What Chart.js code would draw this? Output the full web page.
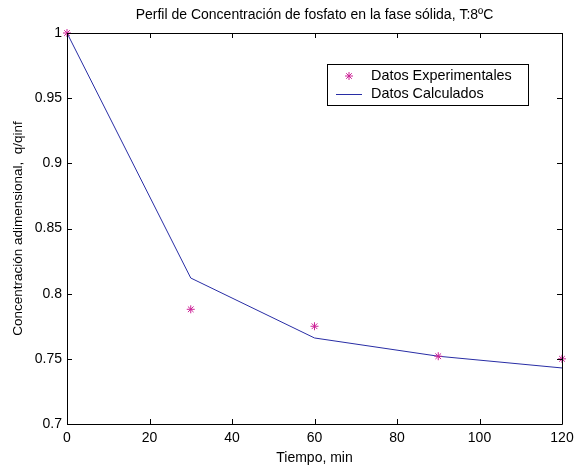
<!DOCTYPE html>
<html>
<head>
<meta charset="utf-8">
<script src="https://cdn.jsdelivr.net/npm/chart.js@4.4.1/dist/chart.umd.min.js"></script>
<style>
    html, body { margin: 0; padding: 0; background: #ffffff; }
    #wrap { width: 586px; height: 468px; }
</style>
</head>
<body>
<div id="wrap"><canvas id="grafico"></canvas></div>
<script>
// datos
const tiempo = [0, 30, 60, 90, 120];
const datos_experimentales = [1.000, 0.788, 0.775, 0.752, 0.750];
const datos_calculados = [1.000, 0.812, 0.766, 0.752, 0.743];
const ticks_x = [0, 20, 40, 60, 80, 100, 120];
const ticks_y = [0.7, 0.75, 0.8, 0.85, 0.9, 0.95, 1];
const nombres = ["Datos Experimentales", "Datos Calculados"];
const titulo = "Perfil de Concentración de fosfato en la fase sólida, T:8ºC";

const fuente = "'Liberation Sans', Arial, Helvetica, sans-serif";
const color_exp = "rgb(204, 34, 150)";
const color_calc = "rgb(40, 45, 165)";

Chart.defaults.font.family = fuente;
Chart.defaults.font.size = 14;
Chart.defaults.color = "#000000";

function puntos(xs, ys)
{
    return xs.map((x, i) => ({ x: x, y: ys[i] }));
}

// caja, marcas hacia dentro, titulo y leyenda al estilo matlab
const caja_matlab =
{
    id: "caja_matlab",
    afterDraw(chart)
    {
        const ctx = chart.ctx;
        const a = chart.chartArea;
        const sx = chart.scales.x;
        const sy = chart.scales.y;
        const largo = 5;

        ctx.save();
        ctx.strokeStyle = "#000000";
        ctx.lineWidth = 1;
        ctx.beginPath();
        ctx.rect(Math.round(a.left) + 0.5, Math.round(a.top) + 0.5,
                 Math.round(a.right - a.left), Math.round(a.bottom - a.top));
        ctx.stroke();

        ctx.beginPath();
        ticks_x.forEach(v =>
        {
            const px = Math.round(sx.getPixelForValue(v)) + 0.5;
            ctx.moveTo(px, a.bottom);
            ctx.lineTo(px, a.bottom - largo);
            ctx.moveTo(px, a.top);
            ctx.lineTo(px, a.top + largo);
        });
        ticks_y.forEach(v =>
        {
            const py = Math.round(sy.getPixelForValue(v)) + 0.5;
            ctx.moveTo(a.left, py);
            ctx.lineTo(a.left + largo, py);
            ctx.moveTo(a.right, py);
            ctx.lineTo(a.right - largo, py);
        });
        ctx.stroke();

        // titulo centrado sobre los ejes
        ctx.fillStyle = "#000000";
        ctx.font = "14px " + fuente;
        ctx.textAlign = "center";
        ctx.textBaseline = "middle";
        ctx.fillText(titulo, (a.left + a.right) / 2, 15);

        // leyenda
        const lx = 327, ly = 64, lw = 201, lh = 41;
        ctx.fillStyle = "#ffffff";
        ctx.fillRect(lx, ly, lw, lh);
        ctx.strokeRect(lx + 0.5, ly + 0.5, lw, lh);

        ctx.strokeStyle = color_exp;
        ctx.lineWidth = 1;
        const cx = 349, cy = 76, r = 4;
        ctx.beginPath();
        ctx.moveTo(cx - r, cy); ctx.lineTo(cx + r, cy);
        ctx.moveTo(cx, cy - r); ctx.lineTo(cx, cy + r);
        const d = r * 0.7;
        ctx.moveTo(cx - d, cy - d); ctx.lineTo(cx + d, cy + d);
        ctx.moveTo(cx - d, cy + d); ctx.lineTo(cx + d, cy - d);
        ctx.stroke();

        ctx.strokeStyle = color_calc;
        ctx.beginPath();
        ctx.moveTo(336, 94.5);
        ctx.lineTo(362, 94.5);
        ctx.stroke();

        ctx.fillStyle = "#000000";
        ctx.font = "14.4px " + fuente;
        ctx.textBaseline = "middle";
        ctx.textAlign = "left";
        ctx.fillText(nombres[0], 371, 76);
        ctx.fillText(nombres[1], 371, 94);
        ctx.restore();
    }
};

const data =
{
    datasets:
        [{
            label: nombres[0],
            data: puntos(tiempo, datos_experimentales),
            showLine: false,
            pointStyle: "star",
            pointRadius: 4,
            pointBorderWidth: 1,
            borderColor: color_exp,
            backgroundColor: color_exp,
            clip: false
        },
        {
            label: nombres[1],
            data: puntos(tiempo, datos_calculados),
            pointRadius: 0,
            borderWidth: 1,
            borderColor: color_calc,
            backgroundColor: color_calc,
            tension: 0,
            clip: false
        }]
};

const config =
{
    type: "line",
    data,
    options:
    {
        responsive: true,
        maintainAspectRatio: false,
        animation: false,
        layout:
        {
            padding: { left: 0, right: 24, top: 33, bottom: 0 }
        },
        scales:
        {
            x:
            {
                type: "linear",
                min: 0,
                max: 120,
                afterBuildTicks: s => { s.ticks = ticks_x.map(v => ({ value: v })); },
                afterFit: s => { s.height = 44; s.paddingLeft = 0; s.paddingRight = 0; },
                grid: { display: false, drawTicks: false },
                border: { display: false },
                ticks: { padding: 6, maxRotation: 0, font: { size: 14 } },
                title:
                {
                    display: true,
                    text: "Tiempo, min",
                    font: { size: 14 },
                    padding: { top: 0, bottom: 1 }
                }
            },
            y:
            {
                min: 0.7,
                max: 1,
                afterBuildTicks: s => { s.ticks = ticks_y.map(v => ({ value: v })); },
                afterFit: s => { s.width = 67; s.paddingTop = 0; s.paddingBottom = 0; },
                grid: { display: false, drawTicks: false },
                border: { display: false },
                ticks:
                {
                    padding: 5,
                    font: { size: 14 },
                    callback: v => String(Math.round(v * 100) / 100)
                },
                title:
                {
                    display: true,
                    text: "Concentración adimensional,  q/qinf",
                    font: { size: 13.5 },
                    padding: { top: 10, bottom: 0 }
                }
            }
        },
        plugins:
        {
            legend: { display: false },
            tooltip: { enabled: false },
            title: { display: false }
        }
    },
    plugins: [caja_matlab]
};

const grafico = new Chart(document.querySelector("#grafico"), config);
</script>
</body>
</html>
